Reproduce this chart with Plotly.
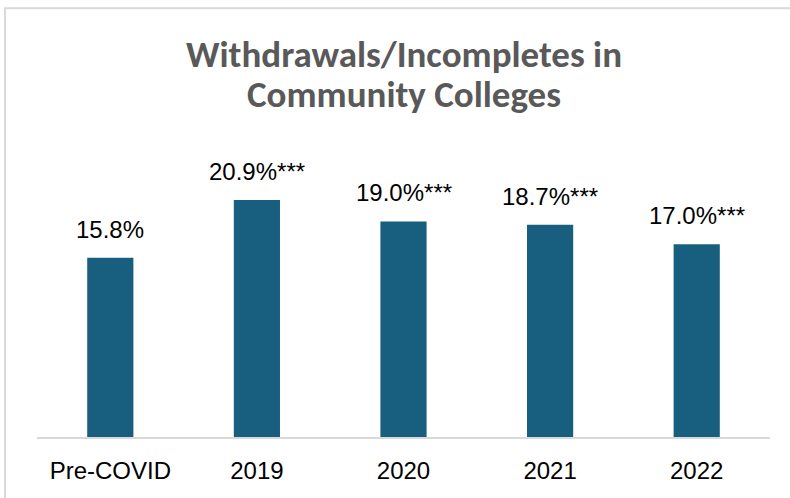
import plotly.graph_objects as go

categories = ["Pre-COVID", "2019", "2020", "2021", "2022"]
values = [15.8, 20.9, 19.0, 18.7, 17.0]
labels = ["15.8%", "20.9%***", "19.0%***", "18.7%***", "17.0%***"]
title_lines = ["Withdrawals/Incompletes in", "Community Colleges"]

bar_color = "#185f7f"

fig = go.Figure()
fig.add_trace(go.Bar(x=categories, y=values, marker=dict(color=bar_color, line=dict(width=0)),
                     hoverinfo="skip"))

# value labels (x given as category index, since "2019" etc. would be read as an index)
for i, (v, t) in enumerate(zip(values, labels)):
    fig.add_annotation(x=i, y=v, text=t, showarrow=False, yanchor="bottom", yshift=13,
                       font=dict(family="Liberation Sans, Arial", size=24, color="#000000"))

# title, two lines with tight line spacing
for line, ypos in zip(title_lines, [1.334, 1.195]):
    fig.add_annotation(xref="paper", yref="paper", x=0.5, y=ypos, xanchor="center", yanchor="middle",
                       text="<b>" + line + "</b>", showarrow=False, borderpad=0,
                       font=dict(family="Carlito, Lato, Open Sans", size=37, color="#595959"))

# chart border
fig.add_shape(type="rect", xref="paper", yref="paper", x0=-0.0437, x1=1.2, y0=-0.5, y1=1.494,
              line=dict(color="#d9d9d9", width=2), fillcolor="rgba(0,0,0,0)", layer="below")

fig.update_layout(
    width=790, height=498,
    margin=dict(l=37, r=20, t=150, b=61),
    paper_bgcolor="white", plot_bgcolor="white",
    bargap=0.685,
    showlegend=False,
    xaxis=dict(type="category", range=[-0.5, len(categories) - 0.5], showgrid=False,
               showline=True, linecolor="#d9d9d9", linewidth=2,
               ticks="", ticklabelstandoff=11,
               tickfont=dict(family="Liberation Sans, Arial", size=24, color="#000000")),
    yaxis=dict(visible=False, range=[0, 25.3], showgrid=False, zeroline=False),
)

fig.write_html("out.html")
